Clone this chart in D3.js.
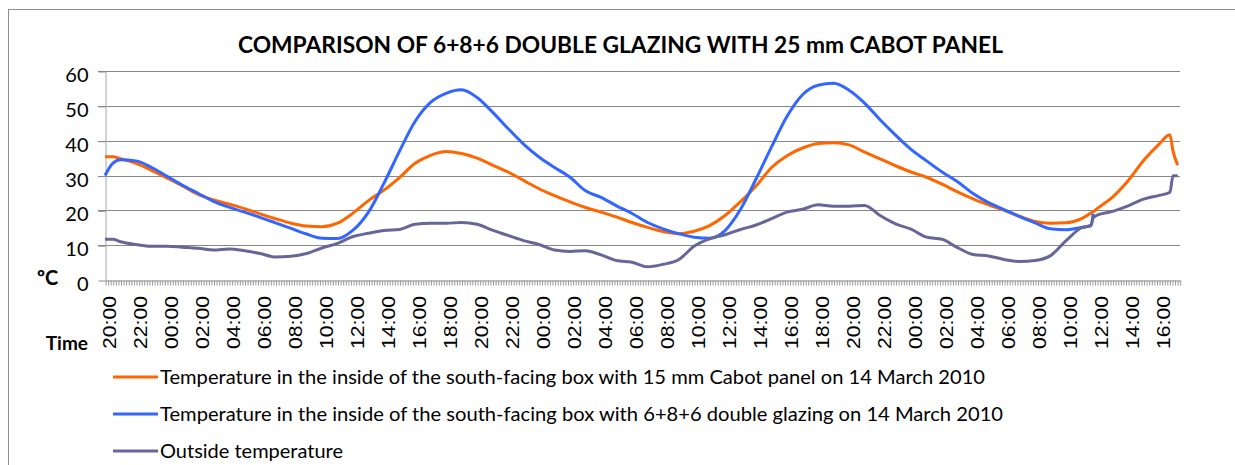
<!DOCTYPE html>
<html>
<head>
<meta charset="utf-8">
<script src="https://cdn.jsdelivr.net/npm/d3@7"></script>
<style>
  body { margin: 0; background: #fff; }
</style>
</head>
<body>
<svg id="chart" width="1235" height="465"></svg>
<script>
// hours since 20:00 on the first evening
const hours = [0, 0.5, 1, 2, 3, 4, 5, 6, 7, 8, 9, 10, 11, 12, 13, 14, 15, 16, 17, 18, 19,
    20, 21, 22, 23, 24, 25, 26, 27, 28, 29, 30, 31, 32, 33, 34, 35, 36, 37, 38, 39,
    40, 41, 42, 43, 44, 45, 46, 47, 48, 49, 50, 51, 52, 53, 54, 55, 56, 57, 58, 59,
    60, 61, 62, 63, 63.6, 63.75, 64, 65, 66, 67, 68, 68.7, 68.9, 69.2];

const cabotPanel = [35.4, 35.4, 34.8, 33.5, 31.5, 29.3, 27, 24.6, 23, 21.8, 20.5, 19, 17.6, 16.3, 15.5, 15.3, 16.3, 19.2, 22.8, 25.8,
    29.4, 33.5, 35.8, 36.9, 36.3, 35, 33, 31, 28.6, 26.2, 24.2, 22.4, 20.8, 19.5, 18.1, 16.5, 15.1, 13.9, 13.3, 14, 15.6,
    18.5, 22.5, 27, 32.3, 35.7, 37.9, 39.2, 39.4, 38.8, 36.7, 34.8, 32.8, 31, 29.5, 27.5, 25.3, 23.3, 21.6, 20, 18.3,
    16.8, 16.3, 16.4, 17.6, 19.2, 19.6, 20.5, 23.8, 28.5, 34.3, 39, 41.7, 37, 33];

const doubleGlazing = [30, 33.5, 34.5, 34.2, 32.3, 29.8, 27.2, 24.9, 22.6, 20.9, 19.5, 18, 16.4, 14.8, 13.2, 12, 11.9, 14.3, 19.5, 27.8,
    37, 45.5, 51, 53.6, 54.6, 52.4, 48.2, 43.5, 39, 35.3, 32.3, 29.5, 25.6, 23.7, 21.3, 19.1, 16.5, 14.7, 13.3, 12.3, 12,
    14.2, 20.3, 29, 38.2, 47, 53.2, 55.9, 56.5, 54.5, 50.8, 46, 41.6, 37.5, 34.2, 31, 28.2, 24.8, 22.2, 20.2, 18.2,
    16.4, 14.7, 14.4, 15.1, 15.7, 19, null, null, null, null, null, null, null, null];

const outside = [11.7, 11.7, 11, 10.2, 9.7, 9.7, 9.4, 9.1, 8.6, 8.9, 8.4, 7.6, 6.6, 6.8, 7.6, 9.2, 10.5, 12.5, 13.4, 14.2,
    14.5, 16, 16.3, 16.3, 16.5, 16, 14.3, 12.8, 11.3, 10.2, 8.6, 8.2, 8.4, 7.2, 5.6, 5.1, 3.8, 4.5, 5.8, 9.7, 11.8,
    13, 14.5, 15.8, 17.6, 19.5, 20.3, 21.6, 21.2, 21.2, 21.4, 18.5, 16.1, 14.6, 12.3, 11.7, 9.3, 7.3, 6.9, 5.9, 5.3,
    5.6, 7, 11.3, 15, 15.6, 17.8, 18.6, 19.7, 21.3, 23.2, 24.3, 25.2, 29.9, 29.9];

const timeLabels = ['20:00', '22:00', '00:00', '02:00', '04:00', '06:00', '08:00', '10:00', '12:00', '14:00',
    '16:00', '18:00', '20:00', '22:00', '00:00', '02:00', '04:00', '06:00', '08:00', '10:00', '12:00', '14:00',
    '16:00', '18:00', '20:00', '22:00', '00:00', '02:00', '04:00', '06:00', '08:00', '10:00', '12:00', '14:00', '16:00'];

const yTicks = [0, 10, 20, 30, 40, 50, 60];

const seriesNames = [
    'Temperature in the inside of the south-facing box with 15 mm Cabot panel on 14 March 2010',
    'Temperature in the inside of the south-facing box with 6+8+6 double glazing on 14 March 2010',
    'Outside temperature'
];
const seriesValues = [cabotPanel, doubleGlazing, outside];
const seriesColors = ['#ff6600', '#3366ff', '#666699'];

const svg = d3.select('#chart');
const gridColor = '#878787';

svg.append('rect')
    .attr('x', 8.5).attr('y', 9.5)
    .attr('width', 1240).attr('height', 470)
    .attr('fill', 'none')
    .attr('stroke', '#8e8e8e');

const x = d3.scaleLinear().domain([0, 69.35]).range([105, 1180]);
const y = d3.scaleLinear().domain([0, 60]).range([280, 71]);

// title
svg.append('text')
    .attr('x', 238).attr('y', 53)
    .attr('font-family', 'Lato, sans-serif')
    .attr('font-weight', 'bold')
    .attr('font-size', 23)
    .attr('textLength', 765)
    .attr('lengthAdjust', 'spacingAndGlyphs')
    .text('COMPARISON OF 6+8+6 DOUBLE GLAZING WITH 25 mm CABOT PANEL');

// gridlines
svg.append('g')
    .selectAll('line')
    .data(yTicks.slice(1))
    .join('line')
    .attr('x1', 98).attr('x2', 1180)
    .attr('y1', d => Math.round(y(d)) + 0.5)
    .attr('y2', d => Math.round(y(d)) + 0.5)
    .attr('stroke', gridColor);

// y axis
const yAxis = svg.append('g')
    .attr('transform', 'translate(105.5,0.5)')
    .call(d3.axisLeft(y).tickValues(yTicks).tickSizeInner(7).tickSizeOuter(0).tickPadding(10));
yAxis.select('.domain').attr('stroke', '#a6a6a6');
yAxis.selectAll('.tick line').attr('stroke', gridColor);
yAxis.selectAll('.tick text')
    .attr('font-family', 'Lato, sans-serif')
    .attr('font-size', 20)
    .attr('fill', '#000')
    .attr('dy', '0.5em');

// x axis: a tick for every 10 minutes
const minorTicks = d3.range(0, 417).map(i => i / 6);
const xAxis = svg.append('g')
    .attr('transform', `translate(0.5,${Math.round(y(0)) + 0.5})`)
    .call(d3.axisBottom(x).tickValues(minorTicks).tickSize(5).tickSizeOuter(0).tickFormat(''));
xAxis.select('.domain').attr('stroke', gridColor);
xAxis.selectAll('.tick line').attr('stroke', '#9a9a9a');

svg.append('g')
    .selectAll('text')
    .data(timeLabels)
    .join('text')
    .attr('transform', (d, i) => `translate(${x(i * 2) + 4.5},296) rotate(-90)`)
    .attr('text-anchor', 'end')
    .attr('dy', '0.36em')
    .attr('font-family', '"Liberation Sans", Arial, sans-serif')
    .attr('font-size', 18)
    .attr('textLength', 53)
    .attr('lengthAdjust', 'spacingAndGlyphs')
    .text(d => d);

// axis titles
svg.append('text')
    .attr('x', 37).attr('y', 285)
    .attr('font-family', 'Lato, sans-serif')
    .attr('font-weight', 'bold')
    .attr('font-size', 20)
    .text('ºC');

svg.append('text')
    .attr('x', 88).attr('y', 350)
    .attr('text-anchor', 'end')
    .attr('font-family', 'Lato, sans-serif')
    .attr('font-weight', 'bold')
    .attr('font-size', 19)
    .text('Time');

// series
const line = d3.line()
    .defined(d => d[1] !== null)
    .x(d => x(d[0]))
    .y(d => y(d[1]))
    .curve(d3.curveMonotoneX);

seriesValues.forEach((vals, i) => {
    svg.append('path')
        .datum(hours.map((h, j) => [h, vals[j]]))
        .attr('fill', 'none')
        .attr('stroke', seriesColors[i])
        .attr('stroke-width', 3)
        .attr('stroke-linejoin', 'round')
        .attr('d', line);
});

// legend
const legendY = [377, 414, 451];
const legendWidths = [825, 843, 183];
const legend = svg.append('g');
seriesNames.forEach((name, i) => {
    legend.append('line')
        .attr('x1', 113).attr('x2', 158)
        .attr('y1', legendY[i]).attr('y2', legendY[i])
        .attr('stroke', seriesColors[i])
        .attr('stroke-width', 3);
    legend.append('text')
        .attr('x', 160).attr('y', legendY[i] + 7)
        .attr('font-family', 'Lato, sans-serif')
        .attr('font-size', 19)
        .attr('textLength', legendWidths[i])
        .attr('lengthAdjust', 'spacingAndGlyphs')
        .text(name);
});
</script>
</body>
</html>
